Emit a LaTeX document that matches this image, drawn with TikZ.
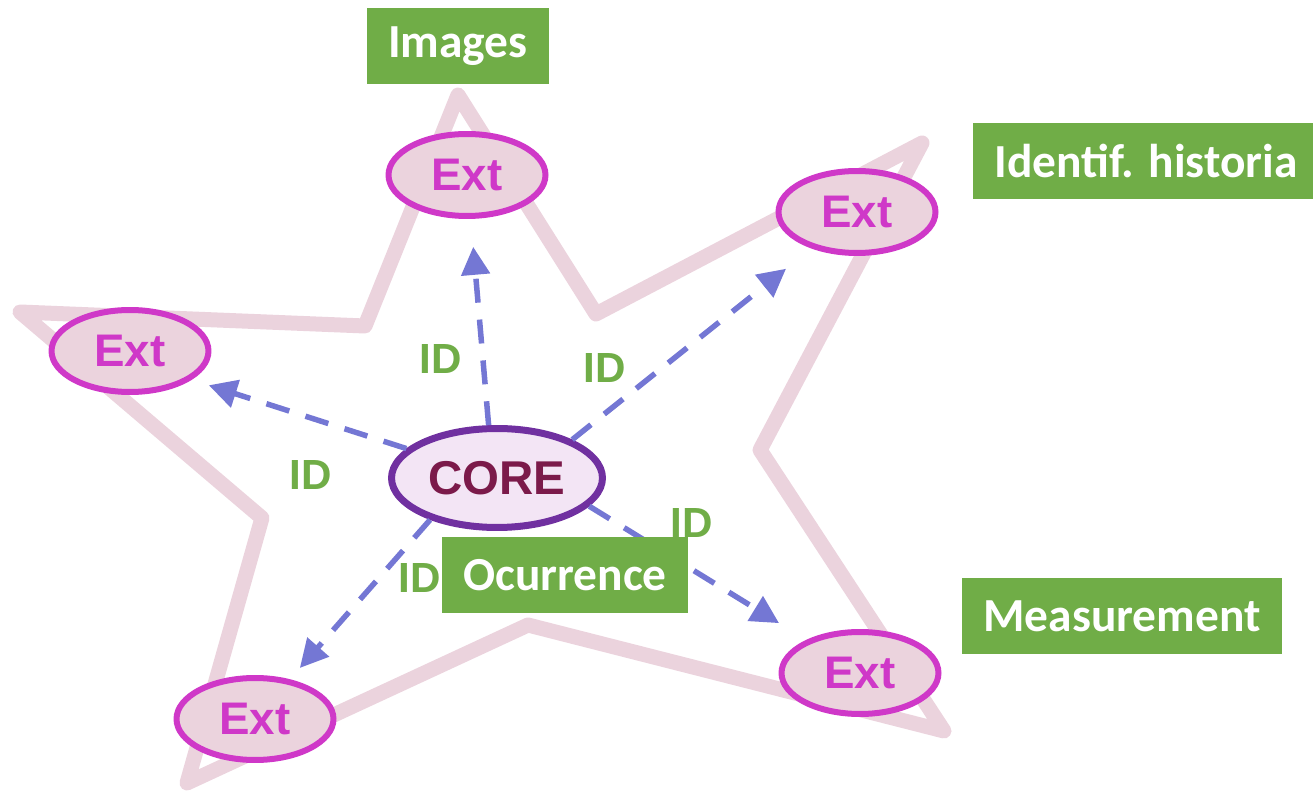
\documentclass[tikz,border=0pt]{standalone}
\usepackage{fontspec}
\setmainfont{Liberation Sans}
\newfontfamily\tagfont{Carlito}
\usepackage{tikz}
\usetikzlibrary{shapes,arrows.meta,positioning}
\definecolor{starpink}{HTML}{EBD3DD}
\definecolor{extborder}{HTML}{CF38C8}
\definecolor{corefill}{HTML}{F3E5F5}
\definecolor{coreborder}{HTML}{7030A0}
\definecolor{coretext}{HTML}{7B1A4A}
\definecolor{idblue}{HTML}{7477D4}
\definecolor{idgreen}{HTML}{70AD47}

\begin{document}
\begin{tikzpicture}[
    x=0.02cm, y=-0.02cm,
    ext/.style = {ellipse, draw=extborder, fill=starpink, line width=0.12cm,
      minimum width=3.14cm, minimum height=1.64cm, inner sep=0pt,
      text=extborder, font=\fontsize{26}{26}\selectfont\bfseries},
    core/.style = {ellipse, draw=coreborder, fill=corefill, line width=0.14cm,
      minimum width=4.22cm, minimum height=1.98cm, inner sep=0pt,
      text=coretext, font=\fontsize{27}{27}\selectfont\bfseries},
    idarrow/.style = {draw=idblue, line width=0.11cm,
      dash pattern=on 0.48cm off 0.34cm,
      -{Triangle[length=0.56cm, width=0.56cm]}},
    idlabel/.style = {text=idgreen, inner sep=0pt,
      font=\fontsize{24}{24}\selectfont\bfseries},
    tag/.style = {fill=idgreen, text=white, minimum height=1.54cm,
      inner xsep=0.42cm, font=\tagfont\fontsize{27}{27}\selectfont\bfseries}
  ]
  \useasboundingbox (0,0) rectangle (1313,793);

  % estrella
  \draw[starpink, line width=0.3cm, line join=round, line cap=round]
    (458,95) -- (596,314) -- (922,143) -- (760,450) -- (944,731)
    -- (528,625) -- (187,783) -- (262,518) -- (20,312) -- (365,326) -- cycle;

  % extensiones
  \node[ext] (e1) at (467,175) {Ext};
  \node[ext] (e2) at (857,212) {Ext};
  \node[ext] (e3) at (130,351) {Ext};
  \node[ext] (e4) at (255,719) {Ext};
  \node[ext] (e5) at (860,673) {Ext};
  \node[core] (core) at (497,478) {CORE};

  % flechas ID
  \draw[idarrow, shorten >=0.56cm] (core.99) -- (e1);
  \draw[idarrow, shorten >=0.65cm] (core.27) -- (e2);
  \draw[idarrow, shorten >=0.36cm] (core.162) -- (e3.-25);
  \draw[idarrow, shorten >=0.3cm] (core.212) -- (e4);
  \draw[idarrow, shorten >=0.64cm] (core.-17) -- (e5);

  \node[idlabel] (id1) at (441,359) {ID};
  \node[idlabel] (id2) at (605,368) {ID};
  \node[idlabel] (id3) at (311,475) {ID};
  \node[idlabel] (id4) at (420,578) {ID};
  \node[idlabel] (id5) at (692,523) {ID};

  % etiquetas
  \node[tag] (images) at (458,46) {Images};
  \node[tag] (historia) at (1146,161) {Identif. historia};
  \node[tag] (ocurrence) at (565,575) {Ocurrence};
  \node[tag] (measurement) at (1122,616) {Measurement};
\end{tikzpicture}
\end{document}
